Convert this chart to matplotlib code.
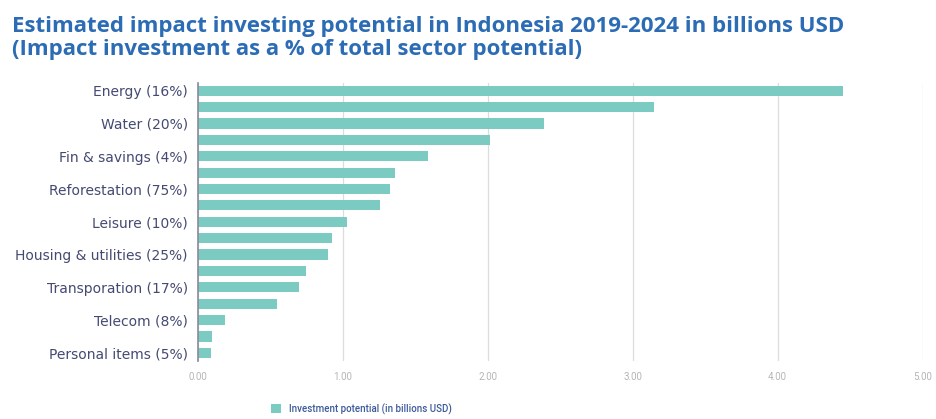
import matplotlib.pyplot as plt

# Sectors from largest to smallest; only every other row carries a label
sectors = ["Energy (16%)", "", "Water (20%)", "", "Fin & savings (4%)", "",
           "Reforestation (75%)", "", "Leisure (10%)", "",
           "Housing & utilities (25%)", "", "Transporation (17%)", "",
           "Telecom (8%)", "", "Personal items (5%)"]
potential = [4.45, 3.15, 2.39, 2.02, 1.59, 1.36, 1.33, 1.26, 1.03, 0.93,
             0.90, 0.75, 0.70, 0.55, 0.19, 0.10, 0.09]
xticks = [0, 1, 2, 3, 4, 5]
xtick_labels = ["0.00", "1.00", "2.00", "3.00", "4.00", "5.00"]

plt.rcParams['font.family'] = ['Roboto', 'DejaVu Sans']

fig = plt.figure(figsize=(9.37, 4.19), dpi=100)
ax = fig.add_axes([0.2108, 0.1384, 0.7739, 0.6646])

rows = list(range(len(potential)))
ax.barh(rows, potential, height=0.62, color="#7ccbc3",
        label="Investment potential (in billions USD)", zorder=3)

ax.set_xlim(0, 5)
ax.set_ylim(len(potential) - 0.5, -0.5)
ax.set_xticks(xticks)
ax.set_xticklabels(xtick_labels, fontsize=7, color="#b5b5b5")
ax.set_yticks(rows)
ax.set_yticklabels(sectors, fontsize=10, color="#444a72", family="DejaVu Sans")
ax.tick_params(axis="both", length=0)
ax.tick_params(axis="x", pad=8)
ax.tick_params(axis="y", pad=7)
ax.grid(axis="x", color="#dcdcdc", linewidth=0.9, zorder=0)

for side in ["top", "right", "bottom"]:
    ax.spines[side].set_visible(False)
ax.spines["left"].set_color("#8a8a9a")
ax.spines["left"].set_linewidth(1.2)
ax.spines["left"].set_zorder(4)

fig.text(0.013, 0.962, "Estimated impact investing potential in Indonesia 2019-2024 in billions USD\n"
         "(Impact investment as a % of total sector potential)",
         fontsize=16, fontweight="bold", color="#2b6cb5", va="top", ha="left",
         family="Open Sans", linespacing=1.15)

fig.legend(loc="center", bbox_to_anchor=(0.386, 0.024), frameon=False,
           prop={"size": 7, "weight": "medium"},
           labelcolor="#3b5a9a", handlelength=1.0, handleheight=1.0)

fig.savefig("out.png", dpi=100)
